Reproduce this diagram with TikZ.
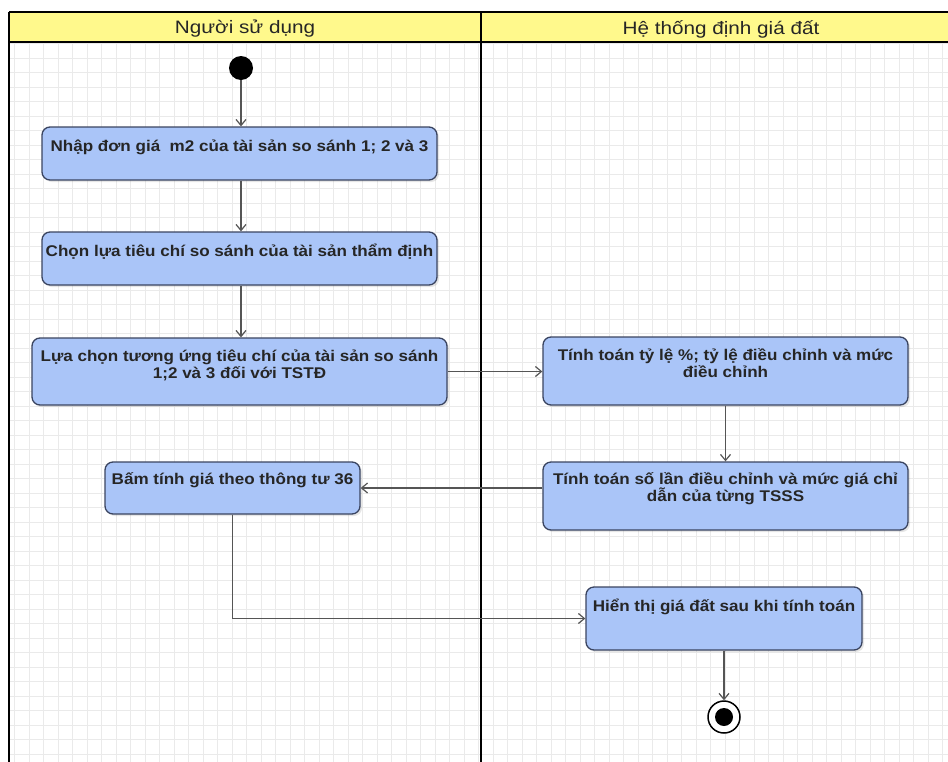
\documentclass[tikz,border=0pt]{standalone}
\usepackage{fontspec}
\setmainfont{Liberation Sans}
\newfontfamily\hdrfont[FakeStretch=1.15]{Liberation Sans}
\newfontfamily\actfont[FakeStretch=1.1]{Liberation Sans}
\usetikzlibrary{arrows.meta,shadows}
\definecolor{actfill}{RGB}{170,197,248}
\definecolor{actdraw}{RGB}{58,68,96}
\definecolor{hdr}{RGB}{255,249,140}
\definecolor{gridc}{RGB}{234,234,234}
\definecolor{flow}{RGB}{85,85,85}
\begin{document}
\begin{tikzpicture}[x=1pt,y=-1pt,
  act/.style={draw=actdraw, fill=actfill, line width=1.3pt, rounded corners=8pt,
    drop shadow={opacity=0.2,shadow xshift=2pt,shadow yshift=-2pt}, inner sep=0pt},
  acttext/.style={anchor=north, inner sep=0pt, font=\actfont\bfseries\fontsize{15.5}{17}\selectfont,
    align=center, text=black!85},
  arr/.style={draw=flow, line width=1.2pt, -{Straight Barb[length=6pt,width=10pt]}},
  lanetitle/.style={font=\hdrfont\fontsize{18}{20}\selectfont, inner sep=0pt, text=black!85}
]
\useasboundingbox (0,0) rectangle (948,761);
% grid
\begin{scope}
  \clip (9,42) rectangle (948,761);
  \draw[gridc, line width=0.6pt, step=14.5pt] (0,0) grid (960,770);
\end{scope}
% swimlanes
\fill[hdr] (9,12) rectangle (960,41);
\draw[line width=2pt] (9,12) -- (960,12);
\draw[line width=2.5pt] (9,42) -- (960,42);
\draw[line width=2.5pt] (9,12) -- (9,765);
\draw[line width=2pt] (481,12) -- (481,765);
\node[lanetitle] (lane1) at (245,29) {Người sử dụng};
\node[lanetitle] (lane2) at (721,29) {Hệ thống định giá đất};
% start / end
\node[circle, fill=black, minimum size=24pt, inner sep=0pt] (start) at (241,68) {};
\node[circle, draw=black, line width=1.5pt, fill=white, minimum size=32pt, inner sep=0pt] (end) at (724,717) {};
\node[circle, fill=black, minimum size=18pt, inner sep=0pt] (endin) at (end) {};
% activities
\node[act, minimum width=395pt, minimum height=53pt] (b1) at (239.5,153.5) {};
\node[acttext] (t1) at ([yshift=-13pt]b1.north) {Nhập đơn giá \ m2 của tài sản so sánh 1; 2 và 3};
\node[act, minimum width=395pt, minimum height=53pt] (b2) at (239.5,258.5) {};
\node[acttext] (t2) at ([yshift=-12pt]b2.north) {Chọn lựa tiêu chí so sánh của tài sản thẩm định};
\node[act, minimum width=415pt, minimum height=67pt] (b3) at (239.5,371.5) {};
\node[acttext] (t3) at ([yshift=-12pt]b3.north) {Lựa chọn tương ứng tiêu chí của tài sản so sánh\\1;2 và 3 đối với TSTĐ};
\node[act, minimum width=365pt, minimum height=68pt] (b4) at (725.5,371) {};
\node[acttext] (t4) at ([yshift=-12pt]b4.north) {Tính toán tỷ lệ \%; tỷ lệ điều chỉnh và mức\\điều chỉnh};
\node[act, minimum width=365pt, minimum height=68pt] (b5) at (725.5,496) {};
\node[acttext] (t5) at ([yshift=-11pt]b5.north) {Tính toán số lần điều chỉnh và mức giá chỉ\\dẫn của từng TSSS};
\node[act, minimum width=255pt, minimum height=52pt] (b6) at (232.5,488) {};
\node[acttext] (t6) at ([yshift=-11pt]b6.north) {Bấm tính giá theo thông tư 36};
\node[act, minimum width=276pt, minimum height=63pt] (b7) at (724,618.5) {};
\node[acttext] (t7) at ([yshift=-12pt]b7.north) {Hiển thị giá đất sau khi tính toán};
% flows
\draw[arr] (start) -- (start |- b1.north);
\draw[arr] (b1.south -| start) -- (b2.north -| start);
\draw[arr] (b2.south -| start) -- (b3.north -| start);
\draw[arr] (b3.east) -- (b3.east -| b4.west);
\draw[arr] (b4.south) -- (b5.north);
\draw[arr] (b5.west |- b6.east) -- (b6.east);
\draw[arr] (b6.south) |- (b7.west);
\draw[arr] (b7.south) -- (end.north);
\end{tikzpicture}
\end{document}
